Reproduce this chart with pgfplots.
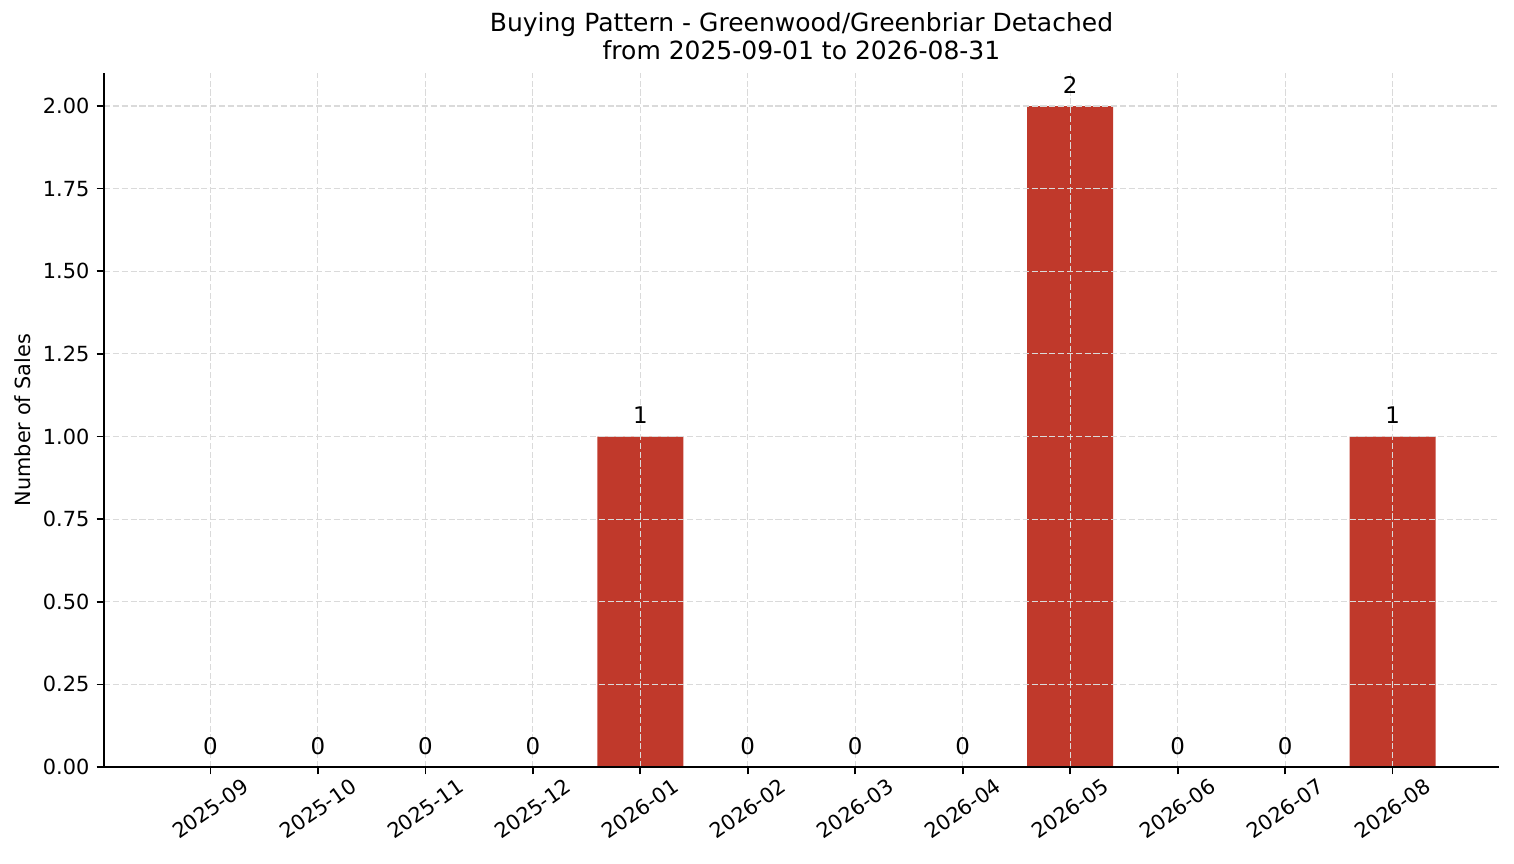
\documentclass[border=0pt]{standalone}
\usepackage{fontspec}
\setmainfont{DejaVu Sans}
\usepackage{pgfplots}
\usepackage{pgfplotstable}
\pgfplotsset{compat=1.18}

\definecolor{barred}{RGB}{192,57,43}
\definecolor{gridgray}{RGB}{218,218,218}

% monthly sales counts
\pgfplotstableread{
idx month n
0 2025-09 0
1 2025-10 0
2 2025-11 0
3 2025-12 0
4 2026-01 1
5 2026-02 0
6 2026-03 0
7 2026-04 0
8 2026-05 2
9 2026-06 0
10 2026-07 0
11 2026-08 1
}\sales

\begin{document}
\begin{tikzpicture}
% canvas of the original figure (1 px = 0.48pt)
\path[use as bounding box] (-49.92pt,-46.08pt) rectangle (676.8pt,368.16pt);
\begin{axis}[
    at={(0pt,0pt)}, anchor=south west,
    scale only axis,
    width=669.6pt, height=333.12pt,
    xmin=-0.99, xmax=11.99,
    ymin=0, ymax=2.1,
    axis lines=left,
    axis line style={-, black, line width=0.8pt},
    axis on top,
    tick align=outside,
    major tick length=3.5pt,
    tick style={black, line width=0.8pt},
    xtick=data,
    xticklabels from table={\sales}{month},
    ytick={0,0.25,...,2.0},
    grid=major,
    major grid style={gridgray, line width=0.55pt, dash pattern=on 2.96pt off 1.28pt},
    /pgf/number format/assume math mode=true,
    yticklabel style={/pgf/number format/.cd, fixed, fixed zerofill, precision=2},
    ticklabel style={font=\fontsize{10}{12}\selectfont},
    xticklabel style={yshift=-16.5pt, rotate=35, anchor=center},
    title={Buying Pattern - Greenwood/Greenbriar Detached\\from 2025-09-01 to 2026-08-31},
    title style={at={(axis description cs:0.5,1)}, anchor=south, align=center,
        inner sep=0pt, yshift=0pt, font=\fontsize{12}{13.6}\selectfont},
    ylabel={Number of Sales},
    ylabel style={at={(axis description cs:-0.0581,0.5)}, anchor=center,
        font=\fontsize{10}{12}\selectfont},
    ybar, bar width=0.8, bar shift=0pt,
    point meta=explicit symbolic,
    nodes near coords,
    nodes near coords style={anchor=base, inner sep=0pt, yshift=6.24pt,
        font=\fontsize{11}{13}\selectfont, black},
]
\addplot[draw=none, fill=barred] table[x=idx, y=n, meta=n] {\sales};
\end{axis}
\end{tikzpicture}
\end{document}
